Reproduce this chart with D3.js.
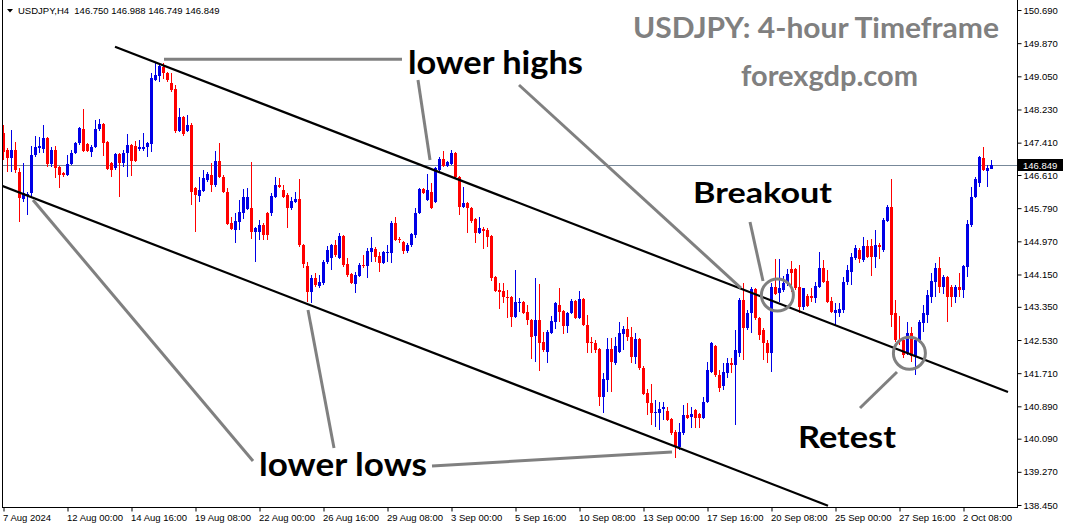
<!DOCTYPE html>
<html><head><meta charset="utf-8">
<script src="https://cdn.jsdelivr.net/npm/d3@7"></script>
<style>
html,body{margin:0;padding:0;background:#fff;}
svg{display:block;}
</style></head><body>
<svg id="chart" width="1065" height="528"></svg>
<script>
// ---------- DATA (USDJPY H4) ----------
const symbol = "USDJPY,H4";
const lastBar = {open:146.750, high:146.988, low:146.749, close:146.849};

const openP = [
147.65,147.23,147.03,147.23,146.68,146.02,146.09,146.16,147.10,147.28,
147.25,147.52,146.88,147.23,146.81,146.66,146.61,146.88,147.15,147.40,
147.75,147.38,147.18,147.30,147.75,147.87,147.43,146.91,146.78,147.13,
146.91,147.15,147.35,147.33,147.25,147.25,147.30,147.38,148.96,149.06,
149.28,149.13,148.89,148.74,147.70,148.04,147.70,147.85,146.29,146.09,
146.21,146.49,146.61,146.36,146.96,146.56,146.19,145.42,145.25,145.45,
145.67,145.77,145.79,145.20,145.20,145.37,145.67,145.67,146.07,146.36,
146.24,146.12,145.79,145.94,146.02,144.88,144.36,143.72,144.06,143.86,
143.94,144.46,144.56,144.88,144.56,145.10,144.41,144.16,143.91,144.11,
144.38,144.36,144.71,144.78,144.61,144.43,144.68,144.68,145.42,145.03,
144.95,144.73,144.88,145.13,145.67,146.26,145.99,146.19,145.94,146.73,
147.00,146.83,146.88,147.15,146.56,145.82,145.92,145.79,145.52,145.18,
145.27,145.25,145.10,144.09,143.77,143.74,143.59,143.59,143.10,143.44,
143.47,143.22,143.02,142.63,143.02,142.48,142.23,142.70,142.97,143.40,
143.25,142.87,143.20,143.49,143.07,143.54,142.90,142.48,142.46,142.31,
141.12,141.54,142.31,141.96,142.23,142.68,142.80,142.60,142.11,142.55,
141.84,141.22,140.97,140.72,140.72,140.82,140.77,140.58,140.26,139.88,
140.23,140.67,140.62,140.80,140.70,140.60,141.00,141.74,142.38,141.66,
141.39,141.71,141.96,141.91,142.21,143.52,142.83,143.20,143.79,143.07,
142.78,142.46,142.21,143.84,143.69,143.77,143.94,144.29,144.29,143.84,
143.35,143.62,143.62,143.57,143.84,144.31,143.99,143.49,143.20,143.20,
143.27,143.96,144.21,144.56,144.76,144.51,144.85,144.85,144.58,144.88,
144.76,145.47,145.82,143.20,142.53,142.53,142.21,142.70,142.14,142.53,
142.95,143.15,143.59,143.96,144.31,143.84,144.09,143.84,143.59,143.84,
143.77,144.33,145.37,146.07,146.41,147.03,146.71,146.750];

const highP = [
147.85,147.28,147.72,147.43,146.78,146.90,146.19,147.33,147.57,147.55,
147.85,147.55,147.30,147.33,146.83,146.68,147.10,147.23,147.43,147.80,
148.24,147.40,147.35,147.97,147.99,147.90,147.45,146.93,147.15,147.15,
147.23,147.62,147.38,147.45,147.48,147.65,147.43,149.13,149.38,149.38,
149.38,149.16,149.13,148.84,148.27,148.07,148.09,147.90,146.31,146.56,
146.73,146.68,146.91,147.20,147.40,146.61,146.29,145.57,145.67,145.99,
146.26,146.29,146.93,145.32,145.50,145.42,145.69,146.16,146.56,146.54,
146.36,146.16,146.07,146.19,146.51,144.90,144.46,144.14,144.19,144.14,
144.51,144.85,144.90,145.00,145.18,145.13,144.56,144.19,144.21,144.43,
144.63,144.80,145.08,144.83,144.71,144.73,144.88,145.47,145.57,145.08,
144.98,144.93,145.18,145.79,146.29,146.29,146.63,146.41,146.81,147.05,
147.20,146.96,147.23,147.18,146.59,146.31,145.94,145.82,145.55,145.57,
145.32,145.30,145.13,144.11,143.94,143.94,143.77,143.62,144.26,143.57,
143.49,143.40,143.05,144.06,143.91,142.73,142.78,143.12,143.47,143.82,
143.27,143.22,143.54,143.52,143.74,143.57,143.15,142.60,142.53,142.33,
141.71,142.58,142.58,142.60,142.97,142.87,143.10,142.85,142.70,142.58,
141.89,141.32,141.44,141.05,141.00,141.00,140.87,140.60,140.30,140.48,
140.92,140.97,140.87,140.82,140.72,141.12,141.99,142.48,142.41,141.79,
141.96,142.09,142.09,142.78,143.57,143.94,143.27,143.84,143.82,143.10,
142.83,142.53,143.94,144.53,144.53,144.11,144.29,144.48,144.31,144.38,
143.82,143.67,143.82,143.96,144.71,144.51,144.26,143.59,143.44,143.44,
144.09,144.38,144.68,144.88,144.80,145.08,145.00,145.03,145.25,144.93,
145.55,145.87,146.51,143.52,143.12,142.60,142.97,142.85,142.58,143.02,
143.40,143.77,144.19,144.43,144.58,144.14,144.11,143.89,143.89,144.19,
144.38,145.50,146.31,146.56,147.08,147.30,146.86,146.988];

const lowP = [
146.98,146.68,146.68,146.66,145.45,145.94,145.62,146.07,147.05,147.15,
147.15,146.81,146.81,146.54,146.29,146.56,146.59,146.86,147.13,147.35,
147.18,147.18,147.05,147.28,147.70,147.08,146.73,146.56,146.73,146.07,
146.81,146.56,146.59,146.93,147.20,147.20,147.05,147.18,148.93,148.91,
148.98,148.91,148.66,147.65,147.67,147.57,147.67,145.87,145.20,145.94,
146.19,146.44,146.19,146.31,146.54,146.16,145.37,145.25,144.93,145.25,
145.52,145.74,145.03,144.46,145.00,145.00,145.00,145.60,146.04,146.29,
146.04,145.30,145.74,145.92,144.83,144.31,143.47,143.44,143.84,143.82,
143.89,144.41,144.26,144.58,144.53,144.33,144.09,143.91,143.69,144.09,
144.31,144.06,144.46,144.46,144.21,144.41,144.46,144.43,144.98,144.93,
144.66,144.68,144.83,145.05,145.65,146.14,145.97,145.77,145.92,146.68,
146.81,146.81,146.86,146.54,145.62,145.79,145.18,145.42,144.93,145.15,
144.78,144.83,143.99,143.72,143.30,143.44,143.07,142.85,143.07,143.22,
143.17,142.90,142.06,141.99,141.76,142.23,141.96,142.68,142.80,142.97,
142.68,142.70,143.17,143.05,143.05,142.87,142.21,142.21,142.21,140.90,
140.72,141.24,141.24,141.91,142.21,142.28,142.50,141.96,141.94,141.79,
141.17,140.67,140.43,140.38,140.30,140.55,140.53,140.18,139.61,139.81,
140.18,140.58,140.35,140.35,140.35,140.58,140.97,141.71,141.61,141.24,
141.29,141.59,141.71,140.43,142.11,142.04,142.78,142.70,143.02,142.53,
142.04,141.96,141.74,143.64,143.47,143.72,143.86,143.72,143.77,143.20,
143.27,143.35,143.47,143.44,143.82,143.94,143.44,143.20,142.90,143.10,
143.20,143.89,143.89,144.51,144.43,144.46,144.56,144.11,144.31,144.53,
144.71,145.45,142.85,142.48,142.41,142.09,142.16,141.99,141.66,142.46,
142.73,142.95,143.44,143.59,143.69,143.67,142.97,143.35,143.44,143.59,
143.57,144.09,145.32,146.04,146.31,146.71,146.31,146.749];

const closeP = [
147.18,147.03,147.23,146.73,146.04,146.16,146.14,147.10,147.30,147.33,
147.52,146.88,147.23,146.78,146.61,146.61,146.88,147.15,147.40,147.77,
147.20,147.20,147.30,147.75,147.87,147.40,146.76,146.73,147.13,146.91,
147.15,147.35,146.96,146.96,147.30,147.30,147.40,149.01,149.08,149.31,
149.13,148.96,148.71,147.70,148.04,147.62,147.85,146.19,146.12,146.24,
146.54,146.63,146.36,146.96,146.56,146.19,145.40,145.27,145.47,145.69,
146.07,146.07,145.20,145.30,145.37,145.13,145.13,146.09,146.36,146.31,
146.07,145.79,145.97,146.02,144.88,144.41,143.72,144.06,143.89,143.96,
144.46,144.76,144.88,144.63,145.10,144.38,144.14,143.94,144.14,144.38,
144.36,144.73,144.80,144.58,144.43,144.71,144.71,145.42,145.00,145.00,
144.73,144.88,145.15,145.67,146.26,146.16,146.24,145.79,146.78,147.00,
146.83,146.93,147.15,146.56,145.82,145.92,145.79,145.47,145.18,145.30,
145.23,145.08,144.06,143.74,143.72,143.59,143.57,143.10,143.47,143.47,
143.20,143.02,142.60,143.02,142.46,142.28,142.73,143.00,143.44,143.22,
142.87,143.20,143.49,143.07,143.54,142.90,142.46,142.46,142.28,141.12,
141.57,142.31,141.99,142.38,142.70,142.80,142.60,142.11,142.55,141.84,
141.20,140.97,140.72,140.75,140.82,140.87,140.55,140.23,139.88,140.26,
140.67,140.60,140.70,140.60,140.60,141.00,141.79,142.46,141.66,141.34,
141.74,141.96,141.91,142.28,143.52,142.83,143.20,143.79,143.07,142.65,
142.46,142.21,143.84,143.67,143.82,143.94,144.16,144.19,143.82,143.35,
143.82,143.37,143.57,143.86,144.31,143.96,143.47,143.22,143.27,143.30,
143.96,144.26,144.58,144.80,144.53,144.85,144.58,144.58,144.88,144.83,
145.50,145.82,143.15,142.53,142.50,142.16,142.70,142.14,142.53,142.97,
143.20,143.64,143.99,144.31,143.84,144.09,143.59,143.59,143.84,143.77,
144.36,145.40,146.07,146.51,147.05,146.73,146.78,146.849];

const xTickIndex = [0,16,32,48,64,80,96,112,128,144,160,176,192,208,224,240];
const xTickLabels = ["7 Aug 2024","12 Aug 00:00","14 Aug 16:00","19 Aug 08:00","22 Aug 00:00",
  "26 Aug 16:00","29 Aug 08:00","3 Sep 00:00","5 Sep 16:00","10 Sep 08:00","13 Sep 00:00",
  "17 Sep 16:00","20 Sep 08:00","25 Sep 00:00","27 Sep 16:00","2 Oct 08:00"];
const yTicks = [150.690,149.870,149.050,148.230,147.410,146.610,145.790,144.970,
  144.150,143.350,142.530,141.710,140.890,140.090,139.270,138.450];

// channel lines [barIndex, price]
const upperChannel = [[28,149.782],[251.25,141.244]];
const lowerChannel = [[-0.25,146.345],[206.25,138.432]];
// grey pointer lines [barIndex, price]
const pointerLines = [
  [[40.25,149.47],[99.75,149.47]],
  [[103.75,148.96],[106.75,146.98]],
  [[129,148.835],[184.5,143.815]],
  [[186.75,145.447],[190,143.988]],
  [[214.25,140.848],[223.5,141.738]],
  [[7.5,145.991],[62.5,139.537]],
  [[76.25,143.271],[82.75,139.859]],
  [[107.25,139.414],[167.25,139.760]]
];
const circleMarks = [[193.6,143.642],[226.6,142.20]];
const labelTexts = ["lower highs","Breakout","Retest","lower lows"];
const labelAnchors = [[101.25,149.10],[172.5,145.91],[198.75,139.86],[64,139.17]];

// ---------- LAYOUT ----------
const svg = d3.select("#chart");
const N = closeP.length;
const plotL = 2, plotR = 1017, plotB = 507;
const x = d3.scaleLinear().domain([-0.25, 253.5]).range([plotL, plotR]);
const y = d3.scaleLinear().domain([138.45, 150.69]).range([505, 10]);
const bull = "#0000e6", bear = "#ff0000";
const grey = "#808080";
const axisFont = "'Liberation Sans', Arial, sans-serif";
const bigFont = "Lato, 'Open Sans', sans-serif";

svg.append("rect").attr("width",1065).attr("height",528).attr("fill","#fff");
svg.append("defs").append("clipPath").attr("id","clip")
  .append("rect").attr("x",plotL).attr("y",0).attr("width",plotR-plotL).attr("height",plotB);

const plot = svg.append("g").attr("clip-path","url(#clip)");

// current price line
plot.append("line")
  .attr("x1",plotL).attr("x2",plotR)
  .attr("y1",Math.round(y(lastBar.close))+0.5).attr("y2",Math.round(y(lastBar.close))+0.5)
  .attr("stroke","#778899").attr("stroke-width",1);

// candles
const idx = d3.range(N);
const cg = plot.append("g").attr("shape-rendering","crispEdges");
const col = i => closeP[i] >= openP[i] ? bull : bear;
cg.selectAll("rect.wick").data(idx).join("rect").attr("class","wick")
  .attr("x", i => Math.round(x(i)))
  .attr("width",1)
  .attr("y", i => Math.round(y(highP[i])))
  .attr("height", i => Math.max(1, Math.round(y(lowP[i])) - Math.round(y(highP[i]))))
  .attr("fill", col);
cg.selectAll("rect.body").data(idx).join("rect").attr("class","body")
  .attr("x", i => Math.round(x(i)) - 1)
  .attr("width",3)
  .attr("y", i => Math.round(y(Math.max(openP[i],closeP[i]))))
  .attr("height", i => Math.max(1, Math.round(y(Math.min(openP[i],closeP[i]))) - Math.round(y(Math.max(openP[i],closeP[i])))))
  .attr("fill", col);

// channel lines
const lineGen = d3.line().x(d => x(d[0])).y(d => y(d[1]));
[upperChannel, lowerChannel].forEach(seg => {
  plot.append("path").attr("d", lineGen(seg)).attr("fill","none")
    .attr("stroke","#000").attr("stroke-width",2.2);
});

// grey pointers and circles
pointerLines.forEach(seg => {
  plot.append("path").attr("d", lineGen(seg)).attr("fill","none")
    .attr("stroke",grey).attr("stroke-width",3);
});
circleMarks.forEach(c => {
  plot.append("circle").attr("cx",x(c[0])).attr("cy",y(c[1])).attr("r",16)
    .attr("fill","none").attr("stroke",grey).attr("stroke-width",3);
});

// annotation texts
const labelSize = [32,29,30,32];
const labelWidth = [175,139,98,168];
labelTexts.forEach((t,k) => {
  svg.append("text").attr("x",x(labelAnchors[k][0])).attr("y",y(labelAnchors[k][1]))
    .attr("font-family",bigFont).attr("font-weight",700).attr("font-size",labelSize[k])
    .attr("textLength",labelWidth[k]).attr("lengthAdjust","spacingAndGlyphs")
    .attr("fill","#000").text(t);
});
svg.append("text").attr("x",633).attr("y",38).attr("font-family",bigFont).attr("font-weight",700)
  .attr("font-size",28).attr("textLength",366).attr("lengthAdjust","spacingAndGlyphs")
  .attr("fill",grey).text("USDJPY: 4-hour Timeframe");
svg.append("text").attr("x",741).attr("y",86).attr("font-family",bigFont).attr("font-weight",700)
  .attr("font-size",29).attr("textLength",177).attr("lengthAdjust","spacingAndGlyphs")
  .attr("fill",grey).text("forexgdp.com");

// frame
const frame = svg.append("g").attr("shape-rendering","crispEdges").attr("stroke","#000");
frame.append("line").attr("x1",plotL+0.5).attr("x2",plotL+0.5).attr("y1",0).attr("y2",plotB+0.5);
frame.append("line").attr("x1",plotR+0.5).attr("x2",plotR+0.5).attr("y1",0).attr("y2",plotB+0.5);
frame.append("line").attr("x1",plotL).attr("x2",plotR+1).attr("y1",plotB+0.5).attr("y2",plotB+0.5);

// right axis
const yAxis = svg.append("g").attr("transform",`translate(${plotR+0.5},0)`)
  .call(d3.axisRight(y).tickValues(yTicks).tickSize(4).tickPadding(2).tickFormat(d3.format(".3f")));
yAxis.select(".domain").remove();
yAxis.selectAll("text").attr("font-family",axisFont).attr("font-size",9.5).attr("fill","#000");
yAxis.selectAll("line").attr("stroke","#000");

// bottom axis
const xAxis = svg.append("g").attr("transform",`translate(0.5,${plotB+0.5})`)
  .call(d3.axisBottom(x).tickValues(xTickIndex).tickSize(4).tickPadding(3)
    .tickFormat((d,k) => xTickLabels[k]));
xAxis.select(".domain").remove();
xAxis.selectAll("text").attr("font-family",axisFont).attr("font-size",9.5)
  .attr("fill","#000").attr("text-anchor","start").attr("dx",-1);
xAxis.selectAll("line").attr("stroke","#000");

// current price tag
const py = y(lastBar.close);
svg.append("rect").attr("x",plotR+1).attr("y",Math.round(py)-6).attr("width",45).attr("height",12)
  .attr("fill","#000");
svg.append("text").attr("x",plotR+6).attr("y",py).attr("dy","0.34em")
  .attr("font-family",axisFont).attr("font-size",9.5).attr("fill","#fff")
  .text(d3.format(".3f")(lastBar.close));

// header
svg.append("path").attr("d","M7,9 L13,9 L10,12.5 Z").attr("fill","#000");
svg.append("text").attr("x",18).attr("y",14).attr("font-family",axisFont).attr("font-size",9.5)
  .attr("fill","#000").attr("xml:space","preserve")
  .text(`${symbol}  ${[lastBar.open,lastBar.high,lastBar.low,lastBar.close].map(d3.format(".3f")).join(" ")}`);
</script>
</body></html>
